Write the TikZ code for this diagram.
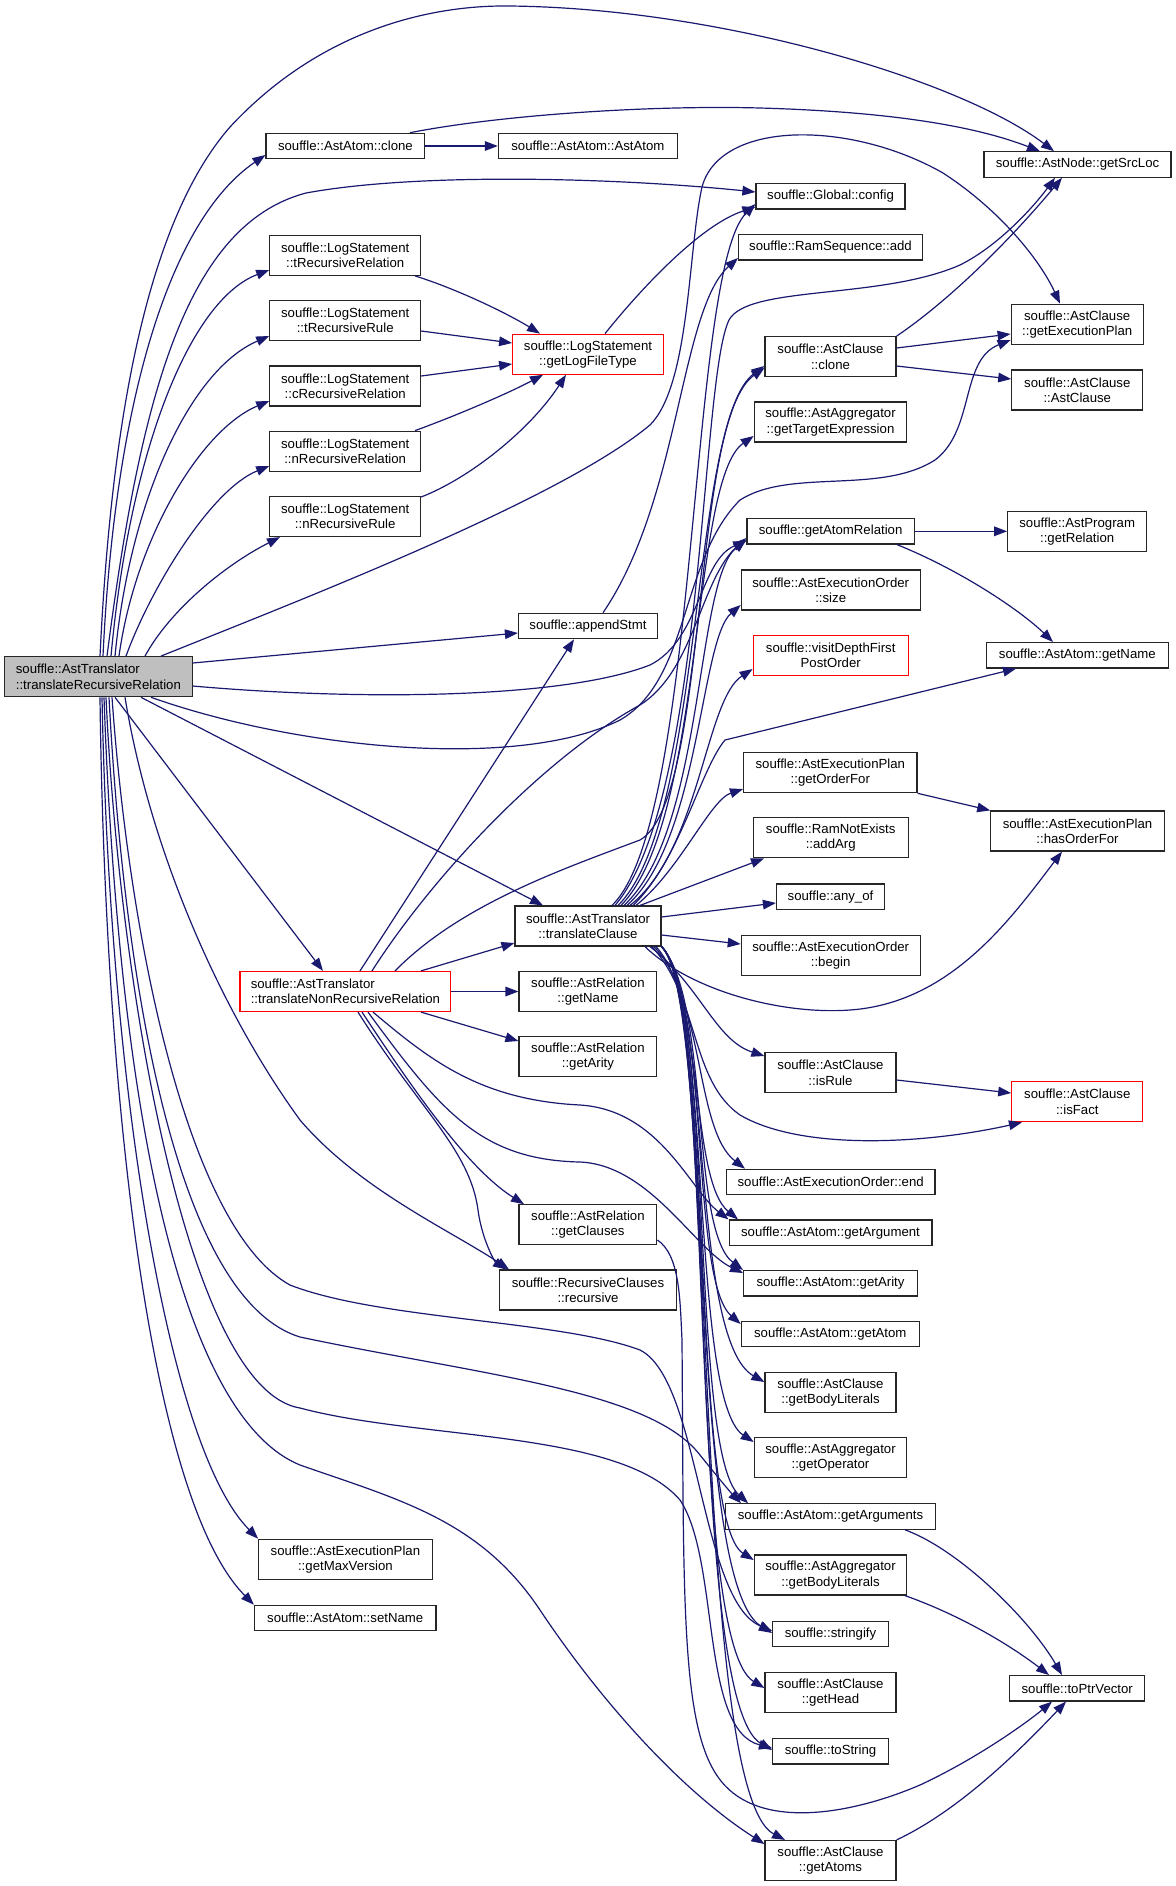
\documentclass[tikz,border=0pt]{standalone}
\usepackage{fontspec}
\setmainfont{Liberation Sans}
\usetikzlibrary{arrows.meta,calc}
\definecolor{edgeblue}{RGB}{25,25,112}
\definecolor{grayS}{RGB}{191,191,191}
\definecolor{boxred}{RGB}{255,0,0}
\newcommand{\dxfont}{\fontsize{6.6pt}{7.6pt}\selectfont}
\tikzset{
  fn/.style={draw=black!85, line width=0.6pt, fill=white, inner sep=0pt, align=center, font=\dxfont, text=black},
  one/.style={minimum height=12.7pt},
  two/.style={minimum height=20pt},
  hot/.style={draw=boxred},
  ed/.style={draw=edgeblue, line width=0.6pt, -{Triangle[length=6.5pt,width=4.8pt]}},
}
\begin{document}
\begin{tikzpicture}[x=0.5pt,y=-0.5pt]
\fill[white] (0,0) rectangle (1176,1886);
\useasboundingbox (0,0) rectangle (1176,1886);

% nodes
\node[fn,two,fill=grayS,align=left,minimum width=93.75pt] (S) at (98.4,676.7) {souffle::AstTranslator\\::translateRecursiveRelation};
\node[fn,one,minimum width=79.4pt] (atomclone) at (345.4,146) {souffle::AstAtom::clone};
\node[fn,one,minimum width=89.5pt] (atomctor) at (587.9,146) {souffle::AstAtom::AstAtom};
\node[fn,one,minimum width=93.5pt] (srcloc) at (1077.5,164.5) {souffle::AstNode::getSrcLoc};
\node[fn,one,minimum width=74.5pt] (config) at (830.5,196.3) {souffle::Global::config};
\node[fn,one,minimum width=91.9pt] (ramadd) at (830.5,247.3) {souffle::RamSequence::add};
\node[fn,two,minimum width=75.4pt] (tRR) at (345.2,255.3) {souffle::LogStatement\\::tRecursiveRelation};
\node[fn,two,minimum width=75.4pt] (tRRule) at (345.2,320.6) {souffle::LogStatement\\::tRecursiveRule};
\node[fn,two,minimum width=75.4pt] (cRR) at (345.2,385.9) {souffle::LogStatement\\::cRecursiveRelation};
\node[fn,two,minimum width=75.4pt] (nRR) at (345.2,451.2) {souffle::LogStatement\\::nRecursiveRelation};
\node[fn,two,minimum width=75.4pt] (nRRule) at (345.2,516.5) {souffle::LogStatement\\::nRecursiveRule};
\node[fn,two,hot,minimum width=75.3pt] (logft) at (588,354.2) {souffle::LogStatement\\::getLogFileType};
\node[fn,two,minimum width=66pt] (execplan) at (1077.2,324.3) {souffle::AstClause\\::getExecutionPlan};
\node[fn,two,minimum width=65.5pt] (clclone) at (830.5,356.7) {souffle::AstClause\\::clone};
\node[fn,two,minimum width=65.5pt] (clctor) at (1077.3,390) {souffle::AstClause\\::AstClause};
\node[fn,two,minimum width=76.2pt] (targexp) at (830.5,422) {souffle::AstAggregator\\::getTargetExpression};
\node[fn,one,minimum width=83.7pt] (atomrel) at (830.6,531.3) {souffle::getAtomRelation};
\node[fn,two,minimum width=69.5pt] (progrel) at (1077.2,531.3) {souffle::AstProgram\\::getRelation};
\node[fn,two,minimum width=89.4pt] (eosize) at (830.7,590) {souffle::AstExecutionOrder\\::size};
\node[fn,one,minimum width=69.5pt] (append) at (588,626) {souffle::appendStmt};
\node[fn,one,minimum width=91pt] (atomname) at (1077.3,655.3) {souffle::AstAtom::getName};
\node[fn,two,hot,minimum width=77.5pt] (visit) at (830.7,655.3) {souffle::visitDepthFirst\\PostOrder};
\node[fn,two,minimum width=86.7pt] (orderfor) at (830.3,772.7) {souffle::AstExecutionPlan\\::getOrderFor};
\node[fn,two,minimum width=86.7pt] (hasorder) at (1077.5,831) {souffle::AstExecutionPlan\\::hasOrderFor};
\node[fn,two,minimum width=77.5pt] (addarg) at (830.7,837.8) {souffle::RamNotExists\\::addArg};
\node[fn,one,minimum width=54pt] (anyof) at (830.5,896.7) {souffle::any\_of};
\node[fn,two,minimum width=73pt] (TC) at (588,926) {souffle::AstTranslator\\::translateClause};
\node[fn,two,minimum width=89.4pt] (eobegin) at (830.7,955.3) {souffle::AstExecutionOrder\\::begin};
\node[fn,two,hot,align=left,minimum width=105.4pt] (TNRR) at (345.4,991.5) {souffle::AstTranslator\\::translateNonRecursiveRelation};
\node[fn,two,minimum width=68.9pt] (relname) at (587.9,991.5) {souffle::AstRelation\\::getName};
\node[fn,two,minimum width=68.9pt] (relarity) at (587.9,1056.8) {souffle::AstRelation\\::getArity};
\node[fn,two,minimum width=65.5pt] (isrule) at (830.5,1072.7) {souffle::AstClause\\::isRule};
\node[fn,two,hot,minimum width=65.5pt] (isfact) at (1077.3,1101.8) {souffle::AstClause\\::isFact};
\node[fn,one,minimum width=104.3pt] (eoend) at (830.7,1182) {souffle::AstExecutionOrder::end};
\node[fn,two,minimum width=68.9pt] (relclauses) at (587.9,1224.8) {souffle::AstRelation\\::getClauses};
\node[fn,one,minimum width=101.4pt] (getarg) at (830.5,1232.7) {souffle::AstAtom::getArgument};
\node[fn,two,minimum width=88.3pt] (recursive) at (588,1290) {souffle::RecursiveClauses\\::recursive};
\node[fn,one,minimum width=86.9pt] (atomarity) at (830.5,1283.3) {souffle::AstAtom::getArity};
\node[fn,one,minimum width=89pt] (getatom) at (830.3,1334) {souffle::AstAtom::getAtom};
\node[fn,two,minimum width=65.5pt] (bodylit) at (830.5,1392.7) {souffle::AstClause\\::getBodyLiterals};
\node[fn,two,minimum width=76.2pt] (aggop) at (830.5,1457.8) {souffle::AstAggregator\\::getOperator};
\node[fn,one,minimum width=104.9pt] (getargs) at (830.5,1516.5) {souffle::AstAtom::getArguments};
\node[fn,two,minimum width=86.7pt] (maxver) at (345.4,1559.3) {souffle::AstExecutionPlan\\::getMaxVersion};
\node[fn,two,minimum width=76.2pt] (aggbody) at (830.5,1575) {souffle::AstAggregator\\::getBodyLiterals};
\node[fn,one,minimum width=90.7pt] (setname) at (345.2,1618) {souffle::AstAtom::setName};
\node[fn,one,minimum width=57.8pt] (stringify) at (830.5,1634) {souffle::stringify};
\node[fn,two,minimum width=65.5pt] (gethead) at (830.5,1692.7) {souffle::AstClause\\::getHead};
\node[fn,one,minimum width=67.5pt] (toptr) at (1077.2,1688.3) {souffle::toPtrVector};
\node[fn,one,minimum width=57.8pt] (tostring) at (830.5,1751.3) {souffle::toString};
\node[fn,two,minimum width=65.5pt] (getatoms) at (830.5,1860.5) {souffle::AstClause\\::getAtoms};

% ---- edges from translateRecursiveRelation
\draw[ed] (S.north -| 100,0) .. controls (110,450) and (140,230) .. (230,127) .. controls (320,30) and (430,5) .. (509,6) .. controls (720,8) and (960,80) .. (srcloc.north -| 1054,0);
\draw[ed] (S.north -| 103,0) .. controls (115,400) and (170,220) .. (atomclone.west |- 0,155);
\draw[ed] (S.north -| 107,0) .. controls (140,400) and (185,225) .. (306,193) .. controls (420,172) and (620,178) .. (config.west |- 0,192);
\draw[ed] (S.north -| 111,0) .. controls (130,450) and (190,300) .. (tRR.west |- 0,270);
\draw[ed] (S.north -| 115,0) .. controls (130,500) and (190,370) .. (tRRule.west |- 0,336);
\draw[ed] (S.north -| 119,0) .. controls (135,540) and (200,430) .. (cRR.west |- 0,401);
\draw[ed] (S.north -| 126,0) .. controls (150,590) and (210,490) .. (nRR.west |- 0,466);
\draw[ed] (S.north -| 145,0) .. controls (170,610) and (225,565) .. (nRRule.south -| 280,0);
\draw[ed] (S.north -| 161,0) .. controls (300,600) and (560,500) .. (650,425) .. controls (690,385) and (688,250) .. (702,187) .. controls (720,120) and (850,120) .. (943,173) .. controls (1000,210) and (1040,260) .. (execplan.north -| 1060,0);
\draw[ed] (S.east |- 0,663) -- (append.west |- 0,633);
\draw[ed] (S.east |- 0,686) .. controls (350,700) and (560,700) .. (650,665) .. controls (700,640) and (700,560) .. (atomrel.west |- 0,541);
\draw[ed] (S.south -| 151,0) .. controls (300,750) and (520,770) .. (620,720) .. controls (690,680) and (680,560) .. (740,500) .. controls (790,468) and (880,495) .. (935,460) .. controls (975,430) and (960,360) .. (execplan.west |- 0,340);
\draw[ed] (S.south -| 141,0) -- (TC.north -| 543,0);
\draw[ed] (S.south -| 115,0) -- (TNRR.north -| 323,0);
\draw[ed] (S.south -| 125,0) .. controls (150,850) and (220,1010) .. (300,1120) .. controls (360,1190) and (450,1230) .. (recursive.north -| 509,0);
\draw[ed] (S.south -| 100,0) .. controls (105,1100) and (150,1500) .. (setname.north west);
\draw[ed] (S.south -| 102,0) .. controls (110,1100) and (170,1450) .. (maxver.north west);
\draw[ed] (S.south -| 104,0) .. controls (120,1150) and (190,1420) .. (300,1465) .. controls (400,1500) and (480,1520) .. (540,1610) .. controls (600,1700) and (680,1790) .. (getatoms.west |- 0,1844);
\draw[ed] (S.south -| 106,0) .. controls (120,1000) and (190,1390) .. (300,1408) .. controls (420,1440) and (620,1430) .. (680,1500) .. controls (720,1560) and (700,1730) .. (tostring.west |- 0,1748);
\draw[ed] (S.south -| 109,0) .. controls (125,1000) and (180,1300) .. (300,1337) .. controls (480,1375) and (650,1390) .. (700,1455) .. controls (720,1480) and (732,1494) .. (getargs.north -| 741,0);
\draw[ed] (S.south -| 112,0) .. controls (130,950) and (190,1230) .. (290,1285) .. controls (380,1320) and (560,1320) .. (640,1350) .. controls (700,1380) and (700,1600) .. (stringify.west |- 0,1631);

% ---- edges from translateNonRecursiveRelation
\draw[ed] (TNRR.north -| 360,0) -- (append.south -| 574,0);
\draw[ed] (TNRR.north -| 372,0) .. controls (430,880) and (540,760) .. (640,705) .. controls (695,670) and (700,580) .. (atomrel.west |- 0,538);
\draw[ed] (TNRR.north -| 395,0) .. controls (460,905) and (560,870) .. (640,840) .. controls (710,800) and (690,420) .. (clclone.west |- 0,368);
\draw[ed] (TNRR.north -| 421,0) -- (TC.west |- 0,943);
\draw[ed] (TNRR.east) -- (relname.west);
\draw[ed] (TNRR.south -| 421,0) -- (relarity.west |- 0,1041);
\draw[ed] (TNRR.south -| 362,0) .. controls (420,1100) and (470,1170) .. (relclauses.north -| 524,0);
\draw[ed] (TNRR.south -| 358,0) .. controls (420,1110) and (470,1150) .. (478,1210) .. controls (482,1240) and (495,1262) .. (recursive.north -| 506,0);
\draw[ed] (TNRR.south -| 373,0) .. controls (430,1060) and (480,1100) .. (580,1105) .. controls (660,1110) and (690,1190) .. (getarg.north west);
\draw[ed] (TNRR.south -| 368,0) .. controls (440,1110) and (480,1160) .. (580,1162) .. controls (650,1165) and (695,1250) .. (atomarity.west |- 0,1273);

% ---- edges from translateClause (upwards)
\draw[ed] (TC.north -| 612,0) .. controls (700,820) and (688,270) .. (config.west |- 0,204);
\draw[ed] (TC.north -| 615,0) .. controls (705,800) and (700,380) .. (729,320) .. controls (748,285) and (880,300) .. (960,265) .. controls (1000,245) and (1035,205) .. (srcloc.south -| 1055,0);
\draw[ed] (TC.north -| 618,0) .. controls (705,820) and (690,420) .. (clclone.west |- 0,366);
\draw[ed] (TC.north -| 621,0) .. controls (705,820) and (690,480) .. (targexp.west |- 0,436);
\draw[ed] (TC.north -| 624,0) .. controls (705,830) and (695,580) .. (atomrel.west |- 0,540);
\draw[ed] (TC.north -| 627,0) .. controls (700,840) and (700,640) .. (eosize.west |- 0,605);
\draw[ed] (TC.north -| 630,0) .. controls (700,850) and (705,700) .. (visit.west |- 0,669);
\draw[ed] (TC.north -| 633,0) .. controls (680,860) and (700,770) .. (725,740) -- (atomname.south -| 1016,0);
\draw[ed] (TC.north -| 636,0) .. controls (680,870) and (710,800) .. (orderfor.west |- 0,789);
\draw[ed] (TC.north -| 640,0) -- (addarg.south -| 764,0);
\draw[ed] (TC.east |- 0,917) -- (anyof.west |- 0,903);
\draw[ed] (TC.east |- 0,935) -- (eobegin.west |- 0,944);

% ---- edges from translateClause (downwards)
\draw[ed] (TC.south -| 645,0) .. controls (690,990) and (780,1015) .. (850,1010) .. controls (950,1003) and (1010,920) .. (hasorder.south -| 1062,0);
\draw[ed] (TC.south -| 650,0) .. controls (700,985) and (715,1040) .. (isrule.west |- 0,1056);
\draw[ed] (TC.south -| 652,0) .. controls (700,1000) and (690,1080) .. (740,1115) .. controls (800,1150) and (920,1145) .. (isfact.south -| 1022,0);
\draw[ed] (TC.south -| 654,0) .. controls (705,1000) and (695,1130) .. (eoend.north -| 745,0);
\draw[ed] (TC.south -| 656,0) .. controls (705,1000) and (690,1180) .. (getarg.north -| 738,0);
\draw[ed] (TC.south east) .. controls (710,1000) and (690,1230) .. (atomarity.north west);
\draw[ed] (TC.south east) .. controls (710,1000) and (690,1280) .. (getatom.west |- 0,1324);
\draw[ed] (TC.south east) .. controls (712,1000) and (690,1340) .. (bodylit.west |- 0,1382);
\draw[ed] (TC.south east) .. controls (712,1000) and (690,1400) .. (aggop.west |- 0,1442);
\draw[ed] (TC.south east) .. controls (714,1000) and (690,1450) .. (getargs.north -| 748,0);
\draw[ed] (TC.south east) .. controls (714,1000) and (690,1520) .. (aggbody.west |- 0,1560);
\draw[ed] (TC.south east) .. controls (716,1000) and (685,1580) .. (stringify.west |- 0,1633);
\draw[ed] (TC.south east) .. controls (716,1000) and (685,1640) .. (gethead.west |- 0,1688);
\draw[ed] (TC.south east) .. controls (718,1000) and (685,1700) .. (tostring.west |- 0,1750);
\draw[ed] (TC.south east) .. controls (718,1000) and (690,1790) .. (getatoms.north -| 785,0);

% ---- other edges
\draw[ed] (relclauses.east |- 0,1240) .. controls (680,1255) and (680,1300) .. (682,1340) .. controls (684,1600) and (680,1730) .. (721,1781) .. controls (760,1830) and (850,1815) .. (920,1785) .. controls (980,1757) and (1030,1720) .. (toptr.south -| 1052,0);
\draw[ed] (atomclone.east) -- (atomctor.west);
\draw[ed] (atomclone.north -| 410,0) .. controls (500,115) and (650,105) .. (760,108) .. controls (900,112) and (980,128) .. (srcloc.north -| 1040,0);
\draw[ed] (tRR.south -| 415,0) .. controls (460,290) and (510,315) .. (logft.north -| 540,0);
\draw[ed] (tRRule.east |- 0,331) -- (logft.west |- 0,343);
\draw[ed] (cRR.east |- 0,376) -- (logft.west |- 0,364);
\draw[ed] (nRR.north -| 415,0) .. controls (450,418) and (505,395) .. (logft.south -| 543,0);
\draw[ed] (nRRule.east |- 0,497) .. controls (470,478) and (530,430) .. (logft.south -| 566,0);
\draw[ed] (logft.north -| 605,0) .. controls (640,290) and (700,225) .. (config.west |- 0,207);
\draw[ed] (append.north -| 603,0) .. controls (680,500) and (680,310) .. (ramadd.west |- 0,258);
\draw[ed] (clclone.east |- 0,348) -- (execplan.west |- 0,334);
\draw[ed] (clclone.east |- 0,366) -- (clctor.west |- 0,379);
\draw[ed] (clclone.north east) .. controls (950,300) and (1010,240) .. (srcloc.south -| 1062,0);
\draw[ed] (atomrel.east) -- (progrel.west);
\draw[ed] (atomrel.south -| 897,0) .. controls (960,570) and (1020,610) .. (atomname.north -| 1053,0);
\draw[ed] (orderfor.south east) -- (hasorder.north west);
\draw[ed] (isrule.east |- 0,1080) -- (isfact.west |- 0,1093);
\draw[ed] (getargs.south -| 905,0) .. controls (960,1550) and (1030,1620) .. (toptr.north -| 1062,0);
\draw[ed] (aggbody.south -| 905,0) .. controls (960,1615) and (1010,1645) .. (toptr.north -| 1049,0);
\draw[ed] (getatoms.north east) .. controls (960,1810) and (1020,1750) .. (toptr.south -| 1066,0);
\end{tikzpicture}
\end{document}
